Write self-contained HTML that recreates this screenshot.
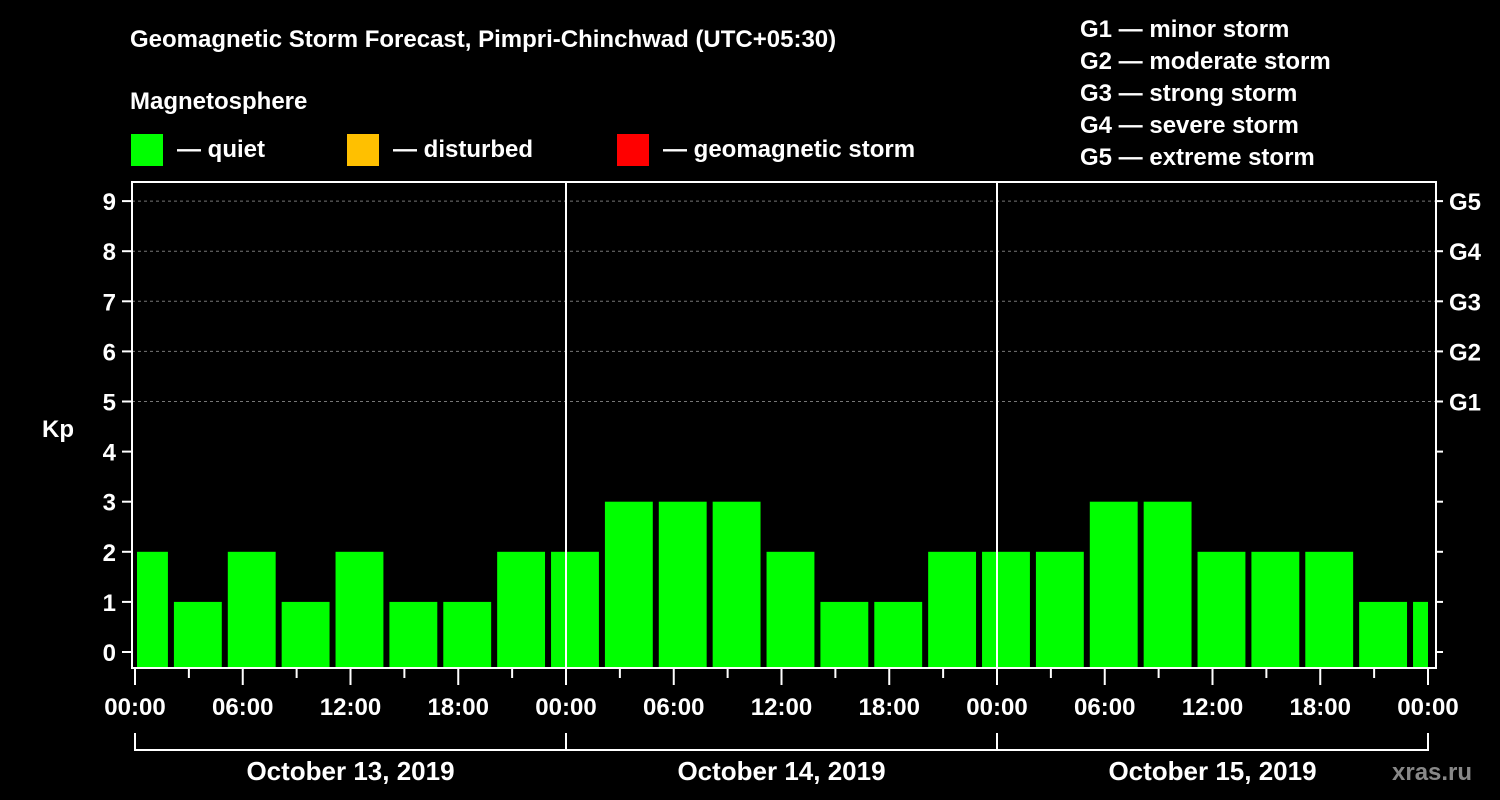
<!DOCTYPE html>
<html><head><meta charset="utf-8"><style>
body{margin:0;background:#000;}
svg{display:block;font-family:"Liberation Sans",Arial,sans-serif;font-weight:bold;}
</style></head><body>
<svg id="chart" width="1500" height="800" viewBox="0 0 1500 800">
<rect width="1500" height="800" fill="#000"/>
<text x="130" y="47" fill="#fff" font-size="24">Geomagnetic Storm Forecast, Pimpri-Chinchwad (UTC+05:30)</text>
<text x="130" y="109" fill="#fff" font-size="24">Magnetosphere</text>
<g><rect x="131" y="134" width="32" height="32" fill="#00ff00"/><text x="177" y="157" fill="#fff" font-size="24">— quiet</text></g>
<g><rect x="347" y="134" width="32" height="32" fill="#ffc000"/><text x="393" y="157" fill="#fff" font-size="24">— disturbed</text></g>
<g><rect x="617" y="134" width="32" height="32" fill="#ff0000"/><text x="663" y="157" fill="#fff" font-size="24">— geomagnetic storm</text></g>
<g fill="#fff" font-size="24">
<text x="1080" y="37">G1 — minor storm</text>
<text x="1080" y="69">G2 — moderate storm</text>
<text x="1080" y="101">G3 — strong storm</text>
<text x="1080" y="133">G4 — severe storm</text>
<text x="1080" y="165">G5 — extreme storm</text>
</g>
<text x="42" y="437" fill="#fff" font-size="24">Kp</text>
<text x="1392" y="780" fill="#888" font-size="24">xras.ru</text>
<g id="grid"></g><g id="bars"></g><g id="axes"></g>
</svg>
<script>
const values = [2,1,2,1,2,1,1,2, 2,3,3,3,2,1,1,2, 2,2,3,3,2,2,2,1,1];
const kpTicks = [0,1,2,3,4,5,6,7,8,9];
const gLabels = ["G1","G2","G3","G4","G5"];
const hourLabels = ["00:00","06:00","12:00","18:00","00:00","06:00","12:00","18:00","00:00","06:00","12:00","18:00","00:00"];
const dayLabels = ["October 13, 2019","October 14, 2019","October 15, 2019"];
const firstSlotHour = -1, slotHours = 3, totalHours = 72;
const NS="http://www.w3.org/2000/svg";
const X0=135, X1=1428, FL=132, FR=1436, FT=182, FB=668;
const xs = h => X0 + (X1-X0)*h/totalHours;
const ys = v => 652 - v*50.1;
function mk(tag, attrs, parent){const e=document.createElementNS(NS,tag);for(const k in attrs)e.setAttribute(k,attrs[k]);parent.appendChild(e);return e;}
const grid=document.getElementById('grid'), bars=document.getElementById('bars'), axes=document.getElementById('axes');
for(let v=5; v<=9; v++){
  const l=mk('line',{x1:FL,x2:FR,y1:ys(v),y2:ys(v),stroke:'#777','stroke-dasharray':'3,3','stroke-width':1},grid);
  
  
}
values.forEach((v,i)=>{
  const h0=Math.max(0,firstSlotHour+i*slotHours), h1=Math.min(totalHours,firstSlotHour+(i+1)*slotHours);
  let a=xs(h0)+3, b=xs(h1)-3;
  if(h0===0) a=xs(0)+2;
  if(h1===totalHours) b=xs(totalHours);
  const r=mk('rect',{x:a,y:ys(v),width:b-a,height:FB-ys(v),fill:v>=5?'#ff0000':(v>=4?'#ffc000':'#00ff00')},bars);
  
  
});
// frame
const fr=mk('rect',{x:FL,y:FT,width:FR-FL,height:FB-FT,fill:'none',stroke:'#fff','stroke-width':2},axes);


[24,48].forEach(h=>{
  const l=mk('line',{x1:xs(h),x2:xs(h),y1:FT,y2:FB,stroke:'#fff','stroke-width':2},axes);
  
  
});
kpTicks.forEach(v=>{
  mk('line',{x1:FL-10,x2:FL,y1:ys(v),y2:ys(v),stroke:'#fff','stroke-width':2},axes);
  mk('line',{x1:FR,x2:FR+7,y1:ys(v),y2:ys(v),stroke:'#fff','stroke-width':2},axes);
  const t=mk('text',{x:FL-16,y:ys(v)+9,fill:'#fff','font-size':24,'text-anchor':'end'},axes);
  t.textContent=v;
  
  
});
gLabels.forEach((g,i)=>{
  const t=mk('text',{x:1449,y:ys(5+i)+9,fill:'#fff','font-size':24},axes);
  t.textContent=g;
  
  
});
for(let h=0; h<=totalHours; h+=3){
  const major=h%6===0;
  mk('line',{x1:xs(h),x2:xs(h),y1:FB+1,y2:FB+(major?17:10),stroke:'#fff','stroke-width':2},axes);
}
hourLabels.forEach((s,i)=>{
  const t=mk('text',{x:xs(i*6),y:715,fill:'#fff','font-size':24,'text-anchor':'middle'},axes);
  t.textContent=s;
  
  
});
dayLabels.forEach((s,i)=>{
  const a=xs(i*24), b=xs((i+1)*24);
  mk('path',{d:`M${a},733 V750 H${b} V733`,fill:'none',stroke:'#fff','stroke-width':2},axes);
  const t=mk('text',{x:(a+b)/2,y:780,fill:'#fff','font-size':26,'text-anchor':'middle'},axes);
  t.textContent=s;
  
  
});
</script>
</body></html>
